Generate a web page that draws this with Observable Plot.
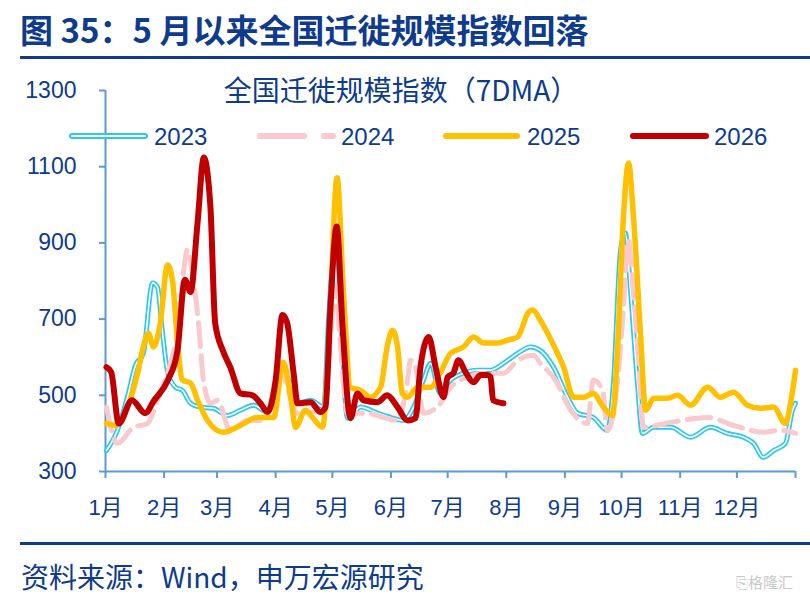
<!DOCTYPE html>
<html><head><meta charset="utf-8">
<script src="https://cdn.jsdelivr.net/npm/d3@7"></script>
<script src="https://cdn.jsdelivr.net/npm/@observablehq/plot@0.6"></script>
<style>
body{margin:0;background:#fff;width:810px;height:606px;overflow:hidden;position:relative;font-family:"Liberation Sans","Noto Sans CJK SC",sans-serif;color:#0E3B8C;}
.abs{position:absolute;white-space:nowrap;line-height:1;}
#title{left:20px;top:13px;font-size:33px;font-weight:bold;font-family:"Noto Sans CJK SC",sans-serif;}
#rule1{left:20px;width:790px;top:56px;height:3px;background:#0E3B8C;}
#sub{left:0;width:802px;text-align:center;top:75px;font-size:28px;font-family:"Noto Sans CJK SC",sans-serif;}
#chart{position:absolute;left:0;top:70px;}
#rule2{left:20px;width:790px;top:542px;height:3px;background:#0E3B8C;}
#source{left:21px;top:562px;font-size:28px;font-family:"Noto Sans CJK SC",sans-serif;}
.lg{top:125px;font-size:24px;font-family:"Liberation Sans",sans-serif;}
.sw{position:absolute;top:129px;}
#wm{left:736px;top:574px;font-size:15px;color:#c8c8c8;font-family:"Noto Sans CJK SC",sans-serif;}
</style></head>
<body>
<div id="title" class="abs">图 35：5 月以来全国迁徙规模指数回落</div>
<div id="rule1" class="abs"></div>
<div id="sub" class="abs">全国迁徙规模指数（7DMA）</div>
<div id="chart"></div>
<div id="legend"></div>
<div id="rule2" class="abs"></div>
<div id="source" class="abs">资料来源：Wind，申万宏源研究</div>
<div id="wm" class="abs">⎘格隆汇</div>
<script>
// ---- data (day of year, value) ----
const monthStarts = [0, 31, 59, 90, 120, 151, 181, 212, 243, 273, 304, 334, 365];
const monthLabels = ["1月","2月","3月","4月","5月","6月","7月","8月","9月","10月","11月","12月",""];
const yTicks = [300, 500, 700, 900, 1100, 1300];
const seriesNames = ["2023", "2024", "2025", "2026"];

const days2023 = [0.5,6.3,11.6,15.9,20,24.9,27.5,30,33,37,40.7,45,50,57,64.5,71.4,78.3,85.7,92.6,98,101.6,108.5,115.4,118,120.6,122.5,124.5,128,135,143.9,150.8,157.6,163,168.2,172,177,182.5,189.4,196.8,203.7,210.5,218,224.8,230,237,244.4,249.7,258,265.5,268.7,272.5,275,277.7,281.4,284,290,299,309.5,320,329,337.5,342.8,348,353.4,359.7,363.4,365];
const vals2023 = [355,408,495,579,610,795,784,671,558,521,513,479,469,466,447,461,474,456,558,532,479,487,469,700,870,880,700,440,469,453,442,434,469,540,584,505,540,558,566,566,584,610,627,618,574,495,453,442,408,532,882,926,776,532,400,416,416,390,416,400,390,374,337,355,374,461,479];

const days2024 = [0.5,6.3,14.8,22.2,27.5,32.8,38,43.4,46.5,49.2,51.8,55.5,59.2,66,75,83.6,92.6,101.6,115.4,119,121.7,124,128,138.6,147,154.5,159.8,161.3,164,168.2,175.6,182.5,191.5,200,210.5,218,226.4,230,238,246,255,258,263,265.5,270.8,274,276.5,278.8,281.9,284.6,299,318.5,332.2,348,357,365];
const vals2024 = [469,374,416,426,487,558,663,882,803,690,540,479,487,408,434,434,558,453,461,650,790,650,453,453,442,434,540,592,574,453,469,521,548,558,558,592,605,584,540,461,426,540,513,408,532,732,908,800,600,416,429,442,421,403,408,400];

const days2025 = [0.5,5.3,11.6,17,20,22.7,25.4,29,32.8,35.4,38,40.7,45,48.7,54,62.4,71.4,80.4,89,94,98,100.5,105.8,109.5,114.8,118,122.5,125.9,129.6,135,140,145.5,149,151.8,154.5,157,159.8,165,172,177,182.5,189.4,194.7,200,207.4,212.7,218,223.8,226,230,236.5,242.3,247.6,252.9,258,263.4,268.2,270.8,274,276.7,279.3,283,285.7,290,297.3,302.6,309.5,318.5,325.3,332.2,339.6,346.5,353.4,359.7,362.4,365];
const vals2025 = [426,421,469,558,627,663,627,690,842,803,645,540,532,487,434,403,421,442,442,587,495,416,461,442,416,610,1071,768,521,513,495,521,627,671,627,505,495,521,521,558,610,627,653,637,637,645,653,718,724,697,637,574,495,495,505,469,447,618,968,1110,968,663,461,492,492,500,474,521,495,508,474,466,469,426,479,566];

const days2026 = [0.5,3,7,14,21,25.5,33,38,42,45,48.7,52,55.5,58,62,66,71.4,77.8,82,85.7,90,93.6,96,99.5,101.6,108.5,113.7,116.4,119,122.3,125.4,129.6,133.3,136.5,143.9,149,154.5,159.8,164,166.6,171,174.6,178.8,181,184,186.7,190.4,194.7,198.4,202,203.7,205,210.5];
const vals2026 = [574,561,426,487,453,485,540,615,803,771,953,1124,995,690,618,574,505,500,479,456,540,711,692,558,479,482,456,469,732,943,680,440,505,487,482,500,469,434,440,574,653,574,495,548,558,592,561,534,553,553,548,487,479];

const colors = {"2023":"#2EC7EE","2024":"#F8CACD","2025":"#FFC000","2026":"#C00000"};
const rows = (days, vals, s) => days.map((d, i) => ({day: d, value: vals[i], series: s}));
const d23 = rows(days2023, vals2023, "2023");
const d24 = rows(days2024, vals2024, "2024");
const d25 = rows(days2025, vals2025, "2025");
const d26 = rows(days2026, vals2026, "2026");

const axisBlue = "#5B9BD5";
const textBlue = "#0E3B8C";
const curve = "monotone-x";

const chart = Plot.plot({
  width: 810, height: 460,
  marginTop: 20, marginBottom: 59, marginLeft: 105, marginRight: 15,
  style: {fontFamily: "'Liberation Sans','Noto Sans CJK SC',sans-serif", color: textBlue, background: "transparent"},
  x: {domain: [0, 365]},
  y: {domain: [300, 1300]},
  marks: [
    Plot.ruleX([0], {stroke: axisBlue, strokeWidth: 2}),
    Plot.ruleY([300], {stroke: axisBlue, strokeWidth: 2}),
    Plot.axisY({ticks: yTicks, tickFormat: (d) => String(d), tickSize: 6, tickPadding: 23, stroke: axisBlue, fill: textBlue, strokeWidth: 2, fontSize: 23, label: null}),
    Plot.axisX({ticks: monthStarts, tickFormat: (d) => monthLabels[monthStarts.indexOf(d)], tickSize: 7, tickPadding: 21, stroke: axisBlue, fill: textBlue, strokeWidth: 2, fontSize: 22, label: null}),
    Plot.line(d23, {x: "day", y: "value", stroke: colors["2023"], strokeWidth: 5, curve}),
    Plot.line(d23, {x: "day", y: "value", stroke: "#ffffff", strokeWidth: 1.6, curve}),
    Plot.line(d24, {x: "day", y: "value", stroke: colors["2024"], strokeWidth: 5, strokeDasharray: "24 9", curve}),
    Plot.line(d25, {x: "day", y: "value", stroke: colors["2025"], strokeWidth: 5.5, curve}),
    Plot.line(d26, {x: "day", y: "value", stroke: colors["2026"], strokeWidth: 6, curve})
  ]
});
document.getElementById("chart").appendChild(chart);

// legend
const legendPos = [{s:"2023", x0:69, x1:148, tx:154}, {s:"2024", x0:257, x1:336, tx:341}, {s:"2025", x0:443, x1:520, tx:527}, {s:"2026", x0:630, x1:709, tx:714}];
const lg = document.getElementById("legend");
legendPos.forEach(p => {
  const w = p.x1 - p.x0;
  let inner;
  if (p.s === "2023") inner = `<line x1="3" y1="7" x2="${w-3}" y2="7" stroke="${colors[p.s]}" stroke-width="6" stroke-linecap="round"/><line x1="3" y1="7" x2="${w-3}" y2="7" stroke="#fff" stroke-width="2" stroke-linecap="round"/>`;
  else if (p.s === "2024") inner = `<line x1="3" y1="7" x2="${w-3}" y2="7" stroke="${colors[p.s]}" stroke-width="6" stroke-dasharray="44 20" stroke-linecap="round"/>`;
  else inner = `<line x1="3" y1="7" x2="${w-3}" y2="7" stroke="${colors[p.s]}" stroke-width="6" stroke-linecap="round"/>`;
  const sw = document.createElement("div");
  sw.className = "sw"; sw.style.left = p.x0 + "px";
  sw.innerHTML = `<svg width="${w}" height="14">${inner}</svg>`;
  lg.appendChild(sw);
  const t = document.createElement("div");
  t.className = "abs lg"; t.style.left = p.tx + "px"; t.textContent = p.s;
  lg.appendChild(t);
});
</script>
</body></html>
